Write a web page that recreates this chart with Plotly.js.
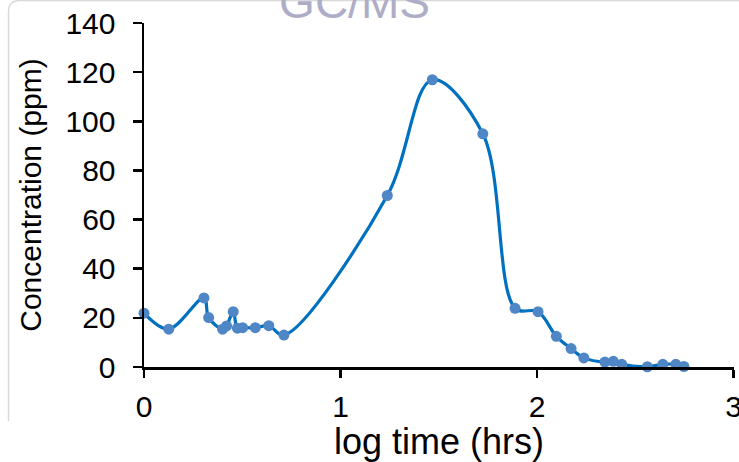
<!DOCTYPE html>
<html>
<head>
<meta charset="utf-8">
<script src="https://cdn.plot.ly/plotly-3.0.1.min.js"></script>
<style>
html,body{margin:0;padding:0;background:#fff;}
#chart{width:739px;height:462px;}
</style>
</head>
<body>
<div id="chart"></div>
<script>
// log time (hrs)
const logTime = [0, 0.126, 0.305, 0.329, 0.40, 0.42, 0.454, 0.475, 0.502, 0.566, 0.635, 0.712,
  1.238, 1.467, 1.724, 1.888, 2.005, 2.098, 2.173, 2.238, 2.345, 2.388, 2.431, 2.561, 2.64, 2.706, 2.747];
// Concentration (ppm)
const conc = [21.9, 15.4, 28.1, 20.1, 15.4, 16.7, 22.5, 15.8, 16.0, 16.0, 16.8, 13.0,
  69.8, 116.9, 94.9, 23.9, 22.5, 12.5, 7.5, 3.7, 2.0, 2.3, 1.1, 0.1, 1.1, 1.1, 0.2];
const xTicks = [0, 1, 2, 3];
const yTicks = [0, 20, 40, 60, 80, 100, 120, 140];

const W = 739, H = 462;
const L = 144, R = 5, T = 23.3, B = 95;
const pw = W - L - R, ph = H - T - B;
const px = v => (v - L) / pw;
const py = v => (H - B - v) / ph;

const font = "Liberation Sans, Arial, sans-serif";

const trace = {
  x: logTime, y: conc, type: 'scatter', mode: 'lines+markers',
  line: {shape: 'spline', smoothing: 1, color: '#0070C0', width: 3.2},
  marker: {color: '#4F86C6', size: 11},
  cliponaxis: false
};

const framePath = `M ${px(8.5)} ${py(421)} L ${px(8.5)} ${py(12)} Q ${px(8.5)} ${py(0.8)} ${px(20)} ${py(0.8)} L ${px(745)} ${py(0.8)}`;

const layout = {
  width: W, height: H,
  margin: {l: L, r: R, t: T, b: B},
  paper_bgcolor: '#fff', plot_bgcolor: '#fff',
  showlegend: false,
  font: {family: font, color: '#000'},
  title: {
    text: 'GC/MS', font: {family: font, size: 46, color: '#AEADC8'},
    x: 354.5 / W, xref: 'container', xanchor: 'center',
    y: 1 - 2 / H, yref: 'container', yanchor: 'middle'
  },
  xaxis: {
    range: [0, 3.002], tickvals: xTicks, ticktext: xTicks.map(String),
    showgrid: false, zeroline: false,
    showline: true, linecolor: '#000', linewidth: 2.5,
    ticks: 'outside', ticklen: 8, tickwidth: 2.5, tickcolor: '#000',
    tickfont: {family: font, size: 30, color: '#000'},
    ticklabelstandoff: 3, ticklabeloverflow: 'allow',
    title: {text: 'log time (hrs)', font: {family: font, size: 36, color: '#000'}, standoff: 0},
    fixedrange: true
  },
  yaxis: {
    range: [0, 140], tickvals: yTicks, ticktext: yTicks.map(String),
    showgrid: false, zeroline: false,
    showline: true, linecolor: '#000', linewidth: 2.5,
    ticks: 'outside', ticklen: 9, tickwidth: 2.5, tickcolor: '#000',
    tickfont: {family: font, size: 30, color: '#000'},
    ticklabelstandoff: 11, ticklabeloverflow: 'allow',
    title: {text: 'Concentration (ppm)', font: {family: font, size: 30, color: '#000'}, standoff: 15},
    fixedrange: true
  },
  shapes: [{
    type: 'path', xref: 'paper', yref: 'paper', path: framePath,
    line: {color: '#D9D9D9', width: 1.5}, layer: 'below'
  }]
};

Plotly.newPlot('chart', [trace], layout, {staticPlot: true, displayModeBar: false});
</script>
</body>
</html>
